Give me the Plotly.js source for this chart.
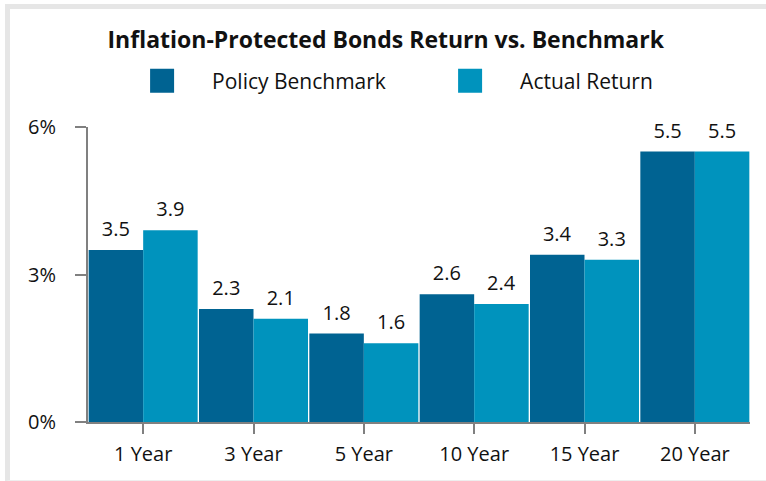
<!DOCTYPE html>
<html>
<head>
<meta charset="utf-8">
<script src="https://cdn.plot.ly/plotly-3.0.1.min.js"></script>
<style>
  html, body { margin: 0; padding: 0; background: #ffffff; width: 766px; height: 481px; overflow: hidden; }
  #frame {
    position: absolute; left: 5px; top: 4px;
    width: 756px; height: 471px;
    border-left: 5px solid #e6e6e6;
    border-top: 5px solid #e6e6e6;
    border-bottom: 1px solid #eeeeee;
  }
  #chart { width: 756px; height: 471px; }
</style>
</head>
<body>
<div id="frame"><div id="chart"></div></div>
<script>
const categories = ['1 Year', '3 Year', '5 Year', '10 Year', '15 Year', '20 Year'];
const policyBenchmark = [3.5, 2.3, 1.8, 2.6, 3.4, 5.5];
const actualReturn = [3.9, 2.1, 1.6, 2.4, 3.3, 5.5];
const seriesNames = ['Policy Benchmark', 'Actual Return'];
const yTickVals = [0, 3, 6];
const yTickText = ['0%', '3%', '6%'];
const chartTitle = 'Inflation-Protected Bonds Return vs. Benchmark';

const FONT = '"Open Sans", "Noto Sans", sans-serif';
const colors = ['#006392', '#0093bd'];

const data = [policyBenchmark, actualReturn].map(function (vals, i) {
  return {
    type: 'bar',
    name: seriesNames[i],
    x: categories,
    y: vals,
    marker: { color: colors[i] },
    texttemplate: '%{y:.1f}',
    textposition: 'outside',
    textfont: { family: FONT, size: 20, color: '#111111' },
    cliponaxis: false,
    hoverinfo: 'skip'
  };
});

const layout = {
  width: 756,
  height: 471,
  margin: { l: 78, r: 16, t: 118, b: 58 },
  paper_bgcolor: '#ffffff',
  plot_bgcolor: '#ffffff',
  font: { family: FONT, size: 20, color: '#111111' },
  title: {
    text: '<b>' + chartTitle + '</b>',
    font: { family: FONT, size: 23, color: '#111111' },
    xref: 'container', x: 0.497, xanchor: 'center',
    yref: 'container', y: 0.934, yanchor: 'middle'
  },
  barmode: 'group',
  bargap: 0.012,
  bargroupgap: 0,
  showlegend: true,
  legend: {
    orientation: 'h',
    x: 0.0364, xanchor: 'left',
    y: 1.156, yanchor: 'middle',
    itemwidth: 90,
    entrywidth: 203,
    font: { family: FONT, size: 21, color: '#111111' },
    bgcolor: 'rgba(0,0,0,0)'
  },
  xaxis: {
    type: 'category',
    showline: true, linecolor: '#808080', linewidth: 2,
    ticks: 'outside', ticklen: 10, tickwidth: 2, tickcolor: '#808080',
    ticklabelstandoff: 3,
    showgrid: false, zeroline: false,
    tickfont: { family: FONT, size: 20, color: '#111111' }
  },
  yaxis: {
    range: [0, 6],
    tickvals: yTickVals, ticktext: yTickText,
    showline: true, linecolor: '#808080', linewidth: 2,
    ticks: 'outside', ticklen: 11, tickwidth: 2, tickcolor: '#808080',
    ticklabelstandoff: 15,
    showgrid: false, zeroline: false,
    tickfont: { family: FONT, size: 20, color: '#111111' }
  }
};

Plotly.newPlot('chart', data, layout, { staticPlot: true, displayModeBar: false }).then(function (gd) {
  gd.querySelectorAll('.legend .legendpoints path').forEach(function (p) {
    p.setAttribute('d', 'M12,12H-12V-12H12Z');
  });
  gd.querySelectorAll('text.bartext').forEach(function (t) {
    var tr = t.getAttribute('transform') || '';
    t.setAttribute('transform', 'translate(0,-5) ' + tr);
  });
});
</script>
</body>
</html>
